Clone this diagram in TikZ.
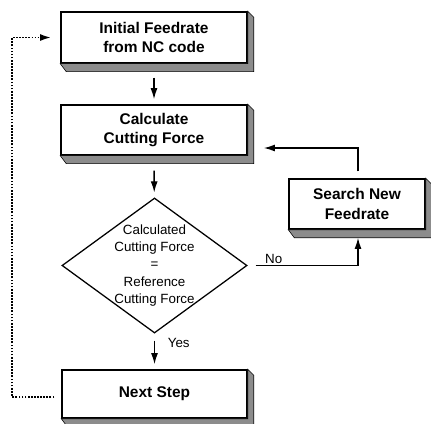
\documentclass[tikz,border=0pt]{standalone}
\usepackage{fontspec}
\setmainfont{Liberation Sans}
\usetikzlibrary{shapes.geometric,arrows.meta}

\tikzset{
  stepbox/.style={draw, line width=1pt, fill=white, align=center, inner sep=0pt,
    font=\bfseries\fontsize{11}{14}\selectfont},
  shadebox/.style={draw, thin, fill=black!45},
  testbox/.style={draw, line width=0.9pt, shape=diamond, inner sep=0pt},
  testtext/.style={align=center, font=\fontsize{9.5}{12.4}\selectfont},
  lbl/.style={font=\fontsize{9.5}{12}\selectfont, inner sep=1pt},
  flow/.style={->, line width=1pt},
  back/.style={->, line width=1.4pt, dash pattern=on 1.2pt off 1pt}
}

\begin{document}
\begin{tikzpicture}[>={Latex[length=8pt,width=5pt]}, x=0.025cm, y=-0.025cm]
\useasboundingbox (0,0) rectangle (431,423);

\node[stepbox, minimum width=4.65cm, minimum height=1.275cm] (init) at (154,37.5) {Initial Feedrate\\from NC code};
\node[stepbox, minimum width=4.65cm, minimum height=1.25cm] (calc) at (154,130) {Calculate\\Cutting Force};
\node[testbox, minimum width=4.625cm, minimum height=3.375cm] (check) at (154.5,265.5) {};
\node[testtext] (checktext) at (check.center) {Calculated\\Cutting Force\\=\\Reference\\Cutting Force};
\node[stepbox, minimum width=3.4cm, minimum height=1.25cm] (search) at (357,204) {Search New\\Feedrate};
\node[stepbox, minimum width=4.625cm, minimum height=1.2cm] (next) at (154.5,394) {Next Step};

% raised edge of the boxes
\foreach \n in {init,calc,search,next}
{
    \filldraw[shadebox] (\n.north east) -- ++(6,6) -- ([shift={(6,8)}]\n.south east)
      -- ([shift={(6,8)}]\n.south west) -- (\n.south west) -- (\n.south east) -- cycle;
}

\draw[flow, shorten <=0.35cm, shorten >=0.125cm] (init) -- (calc);
\draw[flow, shorten <=0.375cm, shorten >=0.125cm] (calc) -- (check);
\draw[flow, shorten <=0.175cm, shorten >=0.125cm] (check) -- node[lbl, right=8pt, pos=.25] (yes) {Yes} (next);
\draw[flow, shorten <=0.2cm, shorten >=0.2cm] (check.east) -| node[lbl, above right, pos=.07] (no) {No} ([xshift=0.025cm]search.south);
\draw[flow, shorten <=0.175cm, shorten >=0.4cm] ([xshift=0.025cm]search.north) |- ([yshift=-0.45cm]calc.east);
\draw[back, shorten <=0.175cm, shorten >=0.225cm] ([yshift=-0.075cm]next.west) -- ++(-49,0) |- (init.west);
\end{tikzpicture}
\end{document}
